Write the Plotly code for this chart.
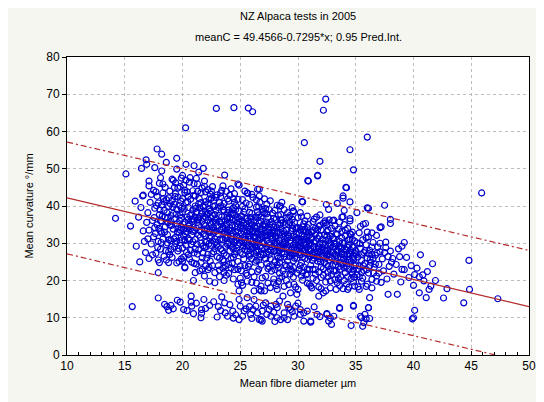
import plotly.graph_objects as go

# ---- regression parameters (from the title) ----
intercept = 49.4566
slope = -0.7295
fit_x = [10, 50]
pi_x = [10, 20, 30, 40, 50]
pi_half = [15.0, 15.1, 15.2, 15.1, 15.1]

# ---- data points (fibre diameter µm, curvature °/mm) ----
band_a = [(17.0,38.2),(17.1,33.5),(17.2,41.0),(17.3,29.8),(17.4,36.1),(17.5,44.2),(17.5,31.7),(17.6,39.4),(17.7,27.3),(17.8,35.0),(17.8,42.6),(17.9,30.5),(18.0,37.7),(18.0,46.1),(18.1,33.2),(18.1,28.4),(18.2,40.3),(18.2,35.9),(18.3,43.5),(18.3,31.1),(18.4,38.8),(18.4,26.5),(18.5,34.4),(18.5,45.0),(18.6,29.6),(18.6,41.7),(18.7,36.8),(18.7,32.3),(18.8,39.9),(18.8,27.8),(18.9,44.0),(18.9,34.9),(19.0,30.7),(19.0,37.4),(16.9,35.6),(17.0,31.2),(17.3,43.1),(17.6,34.2),(17.9,40.8),(18.2,32.7),(18.5,37.0),(18.8,42.2),(17.4,26.9),(18.0,24.8),(18.6,25.5)]
band_b = [(19.1,41.5),(19.1,26.2),(19.2,33.8),(19.2,46.9),(19.3,36.5),(19.3,29.0),(19.4,43.3),(19.4,31.6),(19.5,39.1),(19.5,24.7),(19.5,35.2),(19.6,27.9),(19.6,44.8),(19.7,32.9),(19.7,40.2),(19.8,37.6),(19.8,30.1),(19.9,47.5),(19.9,34.3),(19.9,25.8),(20.0,42.0),(20.0,28.7),(20.0,38.4),(20.1,31.9),(20.1,45.6),(20.2,35.7),(20.2,23.6),(20.3,40.9),(20.3,29.5),(20.3,33.1),(20.4,37.0),(20.4,43.8),(20.5,26.9),(20.5,39.6),(20.5,31.3),(20.6,35.0),(20.6,46.4),(20.7,28.1),(20.7,41.8),(20.7,33.9),(20.8,37.9),(20.8,24.9),(20.9,30.4),(20.9,44.1),(21.0,36.2),(21.0,27.4),(19.2,38.0),(19.6,42.4),(19.9,36.7),(20.2,44.3),(20.4,34.0),(20.6,30.8),(20.9,39.0),(19.4,29.9),(19.8,33.5),(20.1,26.3),(20.5,36.4),(20.8,32.2),(19.3,45.0),(20.0,48.2)]
band_c = [(21.1,42.7),(21.1,31.0),(21.2,38.3),(21.2,24.4),(21.3,35.6),(21.3,45.9),(21.4,28.2),(21.4,40.5),(21.5,33.4),(21.5,22.6),(21.5,37.2),(21.6,30.0),(21.6,43.6),(21.7,26.1),(21.7,35.9),(21.8,39.8),(21.8,32.5),(21.9,46.7),(21.9,28.8),(22.0,41.2),(22.0,34.7),(22.0,23.9),(22.1,37.8),(22.1,30.6),(22.2,44.4),(22.2,27.0),(22.3,33.0),(22.3,39.3),(22.4,35.5),(22.4,25.2),(22.5,42.1),(22.5,29.4),(22.5,31.8),(22.6,37.4),(22.6,45.2),(22.7,27.7),(22.7,34.1),(22.8,40.0),(22.8,22.1),(22.9,36.6),(22.9,30.3),(23.0,43.0),(23.0,26.4),(21.2,34.0),(21.4,36.8),(21.6,40.9),(21.8,29.3),(22.0,32.0),(22.2,36.2),(22.4,38.6),(22.6,33.6),(22.8,31.2),(21.3,27.1),(21.7,44.8),(22.1,26.0),(22.5,35.0),(22.9,38.9),(21.5,39.5),(21.9,33.8),(22.3,29.9),(22.7,41.5),(21.1,37.0),(22.0,36.9),(22.8,28.6),(21.6,24.9),(22.4,43.2),(21.2,47.4),(22.6,24.0)]
band_d = [(23.1,39.6),(23.1,32.4),(23.2,35.8),(23.2,22.8),(23.3,42.5),(23.3,28.5),(23.4,37.1),(23.4,30.9),(23.5,45.4),(23.5,25.6),(23.5,34.3),(23.6,40.7),(23.6,27.3),(23.7,36.0),(23.7,31.5),(23.8,43.9),(23.8,21.4),(23.9,38.2),(23.9,29.7),(24.0,33.6),(24.0,41.3),(24.0,24.3),(24.1,36.7),(24.1,27.9),(24.2,44.6),(24.2,31.9),(24.3,39.0),(24.3,34.8),(24.4,26.2),(24.4,42.0),(24.5,30.2),(24.5,37.5),(24.5,22.9),(24.6,33.1),(24.6,40.1),(24.7,28.7),(24.7,35.3),(24.8,45.9),(24.8,25.1),(24.9,31.4),(24.9,38.6),(25.0,34.0),(25.0,20.6),(23.2,26.0),(23.4,33.9),(23.6,38.8),(23.8,35.0),(24.0,30.0),(24.2,37.9),(24.4,32.6),(24.6,36.3),(24.8,29.6),(23.3,40.0),(23.7,24.0),(24.1,42.9),(24.5,27.0),(24.9,35.7),(23.5,31.0),(23.9,36.4),(24.3,29.0),(24.7,32.0),(23.1,29.2),(23.9,33.0),(24.6,30.8),(23.4,44.2),(24.2,23.4),(24.8,41.8),(23.6,22.2),(24.4,39.5),(25.0,27.5)]
band_e = [(25.1,37.3),(25.1,30.5),(25.2,33.9),(25.2,41.7),(25.3,25.8),(25.3,35.5),(25.4,28.3),(25.4,39.2),(25.5,32.1),(25.5,21.9),(25.6,43.5),(25.6,36.6),(25.7,29.4),(25.7,23.8),(25.8,34.7),(25.8,40.4),(25.9,31.2),(25.9,27.1),(26.0,38.0),(26.0,19.5),(26.1,33.3),(26.1,42.3),(26.2,29.9),(26.2,36.1),(26.3,24.9),(26.3,31.7),(26.4,39.7),(26.4,27.6),(26.5,34.5),(26.5,22.4),(26.6,37.6),(26.6,30.0),(26.7,41.0),(26.7,26.3),(26.8,33.0),(26.8,35.9),(26.9,28.8),(26.9,20.7),(27.0,38.5),(27.0,31.6),(25.2,27.0),(25.4,31.0),(25.6,33.2),(25.8,26.5),(26.0,35.0),(26.2,32.8),(26.4,30.4),(26.6,28.0),(26.8,37.0),(25.3,38.4),(25.7,31.9),(26.1,28.6),(26.5,36.8),(26.9,33.8),(25.5,35.1),(25.9,36.9),(26.3,34.0),(26.7,31.0),(25.1,22.6),(25.6,19.8),(26.2,21.0),(26.8,24.1),(25.4,44.0),(26.0,43.1),(26.6,39.8),(25.8,29.1),(26.4,25.4),(27.0,26.9)]
band_f = [(27.1,35.2),(27.1,28.4),(27.2,32.0),(27.2,39.3),(27.3,24.6),(27.3,30.8),(27.4,36.9),(27.4,19.3),(27.5,33.7),(27.5,26.9),(27.6,41.4),(27.6,29.6),(27.7,35.8),(27.7,22.5),(27.8,31.5),(27.8,38.1),(27.9,27.8),(27.9,34.3),(28.0,25.0),(28.0,30.1),(28.1,36.4),(28.1,18.6),(28.2,32.9),(28.2,40.2),(28.3,28.9),(28.3,23.4),(28.4,34.9),(28.4,30.7),(28.5,37.7),(28.5,26.1),(28.6,32.4),(28.6,21.0),(28.7,29.3),(28.7,35.5),(28.8,39.0),(28.8,27.2),(28.9,31.9),(28.9,24.2),(29.0,33.5),(29.0,36.8),(27.2,34.6),(27.4,27.7),(27.6,32.7),(27.8,35.0),(28.0,33.2),(28.2,26.6),(28.4,28.0),(28.6,36.2),(28.8,30.3),(27.3,37.9),(27.7,29.0),(28.1,31.2),(28.5,33.9),(28.9,28.5),(27.5,23.7),(27.9,20.4),(28.3,19.7),(28.7,22.6),(27.1,41.9),(28.0,38.8),(28.6,41.0),(27.6,25.8),(28.4,24.8)]
band_g = [(29.1,31.4),(29.1,25.3),(29.2,34.9),(29.2,28.2),(29.3,37.4),(29.3,21.7),(29.4,30.0),(29.4,33.3),(29.5,26.7),(29.5,39.6),(29.6,23.5),(29.6,32.0),(29.7,35.6),(29.7,28.9),(29.8,18.2),(29.8,30.9),(29.9,34.0),(29.9,26.0),(30.0,36.9),(30.0,29.4),(30.1,22.9),(30.1,32.6),(30.2,27.5),(30.2,38.2),(30.3,30.3),(30.3,24.7),(30.4,34.4),(30.4,20.1),(30.5,28.0),(30.5,31.8),(30.6,36.0),(30.6,25.9),(30.7,29.8),(30.7,33.0),(30.8,23.0),(30.8,27.1),(30.9,35.1),(30.9,30.6),(31.0,26.5),(31.0,19.0),(29.2,31.8),(29.4,27.3),(29.6,29.6),(29.8,33.9),(30.0,31.3),(30.2,33.7),(30.4,26.3),(30.6,31.0),(30.8,34.2),(29.3,24.0),(29.7,26.0),(30.1,28.6),(30.5,35.2),(30.9,28.3),(29.5,36.4),(29.9,22.0),(30.3,37.1),(30.7,21.5),(31.0,32.2),(29.0,20.0)]
band_h = [(31.1,29.7),(31.1,24.1),(31.2,33.0),(31.2,27.2),(31.3,35.8),(31.3,20.6),(31.4,30.4),(31.4,26.0),(31.5,32.3),(31.5,22.9),(31.6,37.0),(31.6,28.6),(31.7,25.2),(31.7,31.3),(31.8,34.5),(31.8,18.3),(31.9,27.8),(31.9,29.9),(32.0,23.6),(32.0,33.6),(32.1,26.4),(32.1,31.0),(32.2,21.4),(32.2,35.4),(32.3,28.3),(32.3,24.8),(32.4,30.8),(32.4,17.2),(32.5,33.1),(32.5,26.9),(32.6,22.2),(32.6,29.2),(32.7,36.3),(32.7,25.5),(32.8,31.9),(32.8,19.9),(32.9,27.6),(32.9,34.0),(33.0,24.0),(33.0,29.0),(31.2,31.5),(31.5,27.0),(31.8,25.9),(32.1,28.9),(32.4,27.9),(32.7,30.0),(31.3,23.0),(31.7,33.7),(32.0,20.8),(32.3,32.2),(32.6,23.9),(32.9,21.6),(31.4,36.5),(31.9,37.6),(32.5,35.0)]
band_i = [(33.1,31.2),(33.1,22.5),(33.2,27.0),(33.2,34.6),(33.3,25.1),(33.3,29.8),(33.4,19.4),(33.4,32.4),(33.5,27.9),(33.5,23.7),(33.6,30.5),(33.6,35.7),(33.7,21.0),(33.7,26.2),(33.8,28.8),(33.8,33.2),(33.9,24.4),(33.9,17.8),(34.0,30.0),(34.0,26.8),(34.1,22.1),(34.1,32.0),(34.2,28.2),(34.2,19.0),(34.3,25.6),(34.3,34.0),(34.4,29.4),(34.4,23.0),(34.5,27.1),(34.5,31.1),(34.6,20.5),(34.6,25.0),(34.7,29.0),(34.7,33.0),(34.8,22.8),(34.8,26.5),(34.9,30.6),(34.9,18.5),(35.0,24.2),(35.0,28.0),(33.2,29.1),(33.6,24.9),(34.0,35.0),(34.4,27.3),(34.8,28.9),(33.4,21.5),(33.8,31.4),(34.2,23.8),(34.6,32.3),(33.0,36.1)]
band_j = [(35.1,30.1),(35.1,21.5),(35.2,26.3),(35.3,32.8),(35.3,23.9),(35.4,28.6),(35.5,19.8),(35.5,25.4),(35.6,30.9),(35.7,22.7),(35.7,27.5),(35.8,24.6),(35.9,29.6),(35.9,18.4),(36.0,26.0),(36.1,31.7),(36.1,22.0),(36.2,28.1),(36.3,24.9),(36.4,20.3),(36.4,27.0),(36.5,30.2),(36.6,23.5),(36.7,26.8),(36.8,21.2),(36.9,29.0),(37.0,24.3),(37.1,27.7),(37.2,19.5),(36.0,33.0),(35.4,34.5),(36.8,32.1)]
band_k = [(37.3,25.8),(37.4,22.6),(37.6,30.3),(37.7,20.4),(37.9,23.8),(38.0,27.9),(38.3,21.7),(38.5,24.3),(38.7,28.5),(38.9,19.6),(39.2,22.9),(39.4,26.2),(39.6,20.8),(39.8,24.0),(40.0,18.7),(40.3,23.3),(40.6,26.9),(40.9,19.9),(41.2,22.4),(41.5,18.5),(39.0,29.2),(40.5,21.0),
          (37.6,28.8),(37.5,27.5),(37.8,26.4),(38.2,25.9),(38.8,26.4),(38.1,24.9),(41.65,24.5),(44.8,25.4),(39.0,23.0),(40.1,21.6),(40.8,21.5),(41.9,20.0),(42.9,17.8),(44.85,17.6),(42.6,15.3),(44.35,14.0),(47.3,15.1),(41.1,15.4),(41.35,17.6),(40.5,16.7),(38.6,16.3),(37.8,16.3),(40.1,12.0),(40.0,10.0),(39.2,30.2)]
core_extra_left = [(17.55,36.9),(17.65,32.6),(17.75,40.1),(17.85,28.9),(17.95,34.0),(18.05,39.0),(18.15,30.2),(18.25,37.3),(18.35,42.0),(18.45,33.0),(18.55,28.0),(18.65,38.2),(18.75,35.5),(18.85,31.0),(18.95,40.6),(17.7,43.8),(18.3,45.9),(18.9,27.0),
                   (19.05,34.8),(19.15,39.7),(19.25,31.2),(19.35,42.5),(19.45,37.8),(19.55,33.0),(19.65,28.6),(19.75,36.0),(19.85,41.3),(19.95,30.9),(20.05,35.1),(20.15,39.2),(20.25,32.5),(20.35,27.6),(20.45,41.1),(20.55,34.6),(20.65,37.4),(20.75,29.7),(20.85,35.8),(20.95,42.8),(19.4,46.2),(20.3,46.9),(19.7,25.1),(20.6,25.8),(20.1,33.7),(19.5,30.5),(20.9,33.2),
                   (21.05,33.5),(21.15,39.4),(21.25,29.8),(21.35,36.3),(21.45,42.0),(21.55,31.6),(21.65,37.9),(21.75,27.4),(21.85,34.9),(21.95,40.2),(22.05,29.0),(22.15,33.9),(22.25,38.0),(22.35,31.4),(22.45,36.9),(22.55,27.2),(22.65,39.8),(22.75,32.9),(22.85,35.6),(22.95,29.5),(21.3,43.9),(21.9,45.3),(22.5,44.0),(22.9,42.3),(21.7,23.0),(22.3,23.5),(22.0,38.5),(21.4,32.2),(22.6,30.6),(21.8,36.7),(22.2,40.6),(22.8,37.7),(21.1,28.5),(22.4,33.4)]
core_extra_mid = [(23.05,34.7),(23.15,37.4),(23.25,31.1),(23.35,35.2),(23.45,28.0),(23.55,38.9),(23.65,33.0),(23.75,29.2),(23.85,37.0),(23.95,31.8),(24.05,35.7),(24.15,29.4),(24.25,33.4),(24.35,38.1),(24.45,30.6),(24.55,34.5),(24.65,27.8),(24.75,36.9),(24.85,33.3),(24.95,30.0),(23.3,43.5),(23.9,41.9),(24.5,43.3),(23.6,25.1),(24.2,26.0),(24.8,23.0),(23.2,40.9),(24.0,38.9),(24.6,39.0),(23.7,33.9),(24.3,31.1),(24.9,36.6),(23.4,36.0),(24.1,34.1),(24.7,30.9),(23.1,24.0),(23.8,26.7),(24.4,28.5),
                  (25.05,32.7),(25.15,35.9),(25.25,29.3),(25.35,33.1),(25.45,36.7),(25.55,30.0),(25.65,34.2),(25.75,27.0),(25.85,32.0),(25.95,35.6),(26.05,29.0),(26.15,31.8),(26.25,34.6),(26.35,28.1),(26.45,32.6),(26.55,30.9),(26.65,35.3),(26.75,29.2),(26.85,31.8),(26.95,34.9),(25.2,39.9),(25.8,38.3),(26.4,41.6),(26.9,39.1),(25.4,24.0),(26.0,25.9),(26.6,23.0),(25.6,27.9),(26.2,27.3),(26.8,27.0),(25.3,31.6),(25.9,33.8),(26.5,32.9),(25.1,34.8),(25.7,36.0),(26.3,37.0),(26.9,30.2),(25.5,29.0),(26.1,30.4),(26.7,33.7),
                  (27.05,30.0),(27.15,33.4),(27.25,27.3),(27.35,32.0),(27.45,29.9),(27.55,35.0),(27.65,28.0),(27.75,31.0),(27.85,33.5),(27.95,29.3),(28.05,31.7),(28.15,34.1),(28.25,27.9),(28.35,30.8),(28.45,32.9),(28.55,28.6),(28.65,30.2),(28.75,33.2),(28.85,26.3),(28.95,30.0),(27.3,35.7),(27.9,36.7),(28.5,35.4),(27.2,25.8),(27.8,24.0),(28.4,22.0),(29.0,23.8),(27.6,31.9),(28.2,30.0),(28.8,32.5),(27.4,33.0),(28.0,27.9),(28.6,27.3),(27.1,38.0),(28.3,37.5),(28.9,35.0)]
core_extra_right = [(29.05,29.0),(29.15,32.3),(29.25,26.4),(29.35,30.6),(29.45,28.5),(29.55,33.9),(29.65,27.2),(29.75,30.0),(29.85,32.4),(29.95,28.2),(30.05,30.7),(30.15,26.9),(30.25,29.3),(30.35,32.0),(30.45,27.9),(30.55,30.1),(30.65,28.0),(30.75,31.7),(30.85,25.7),(30.95,29.5),(29.3,35.6),(30.0,34.2),(30.6,33.7),(29.4,22.9),(30.2,24.0),(30.8,21.8),(29.8,28.0),(30.4,31.0),(31.0,30.0),(29.6,25.3),(30.3,27.0),(29.2,36.9),(30.5,23.6),(30.9,33.0),
                    (31.05,28.0),(31.15,31.2),(31.25,25.4),(31.35,29.1),(31.45,27.5),(31.55,30.6),(31.65,26.4),(31.75,29.0),(31.85,31.9),(31.95,25.0),(32.05,28.1),(32.15,30.0),(32.25,26.7),(32.35,29.6),(32.45,24.3),(32.55,28.0),(32.65,31.1),(32.75,27.0),(32.85,29.4),(32.95,25.9),(31.3,33.4),(31.9,34.8),(32.6,33.6),(31.5,21.7),(32.2,23.2),(32.8,22.9),(31.1,26.6),(31.7,27.9),(32.4,26.0),(33.0,31.5),
                    (33.05,27.5),(33.15,29.9),(33.25,24.2),(33.35,27.9),(33.45,26.1),(33.55,29.2),(33.65,23.0),(33.75,27.6),(33.85,30.1),(33.95,25.7),(34.05,28.5),(34.15,24.8),(34.25,27.0),(34.35,30.9),(34.45,25.4),(34.55,28.1),(34.65,22.3),(34.75,26.0),(34.85,24.0),(34.95,27.2),(33.3,32.5),(34.1,33.5),(34.7,31.0),(33.5,20.5),(34.3,21.0),(34.9,20.9),(33.7,28.5),(34.4,26.4),
                    (35.05,26.9),(35.2,23.0),(35.35,29.9),(35.5,27.0),(35.65,24.0),(35.8,28.0),(35.95,22.9),(36.1,27.2),(36.25,25.6),(36.4,29.0),(36.55,22.0),(36.7,24.4),(36.85,27.4),(37.0,22.0),(35.3,21.0),(35.9,31.5),(36.5,25.9),(37.1,30.0)]
core_fill = [(18.1,36.0),(18.4,41.2),(18.7,30.1),(19.0,35.9),(19.3,40.5),(19.6,34.1),(19.9,39.4),(20.2,30.7),(20.5,42.6),(20.8,36.5),(21.1,40.0),(21.4,34.7),(21.7,38.6),(22.0,30.2),(22.3,41.8),(22.6,35.8),(22.9,33.3),(19.0,28.3),(20.0,25.2),(21.0,24.6),(22.2,22.9),(19.8,45.2),(21.0,46.0),(22.0,43.8),
             (23.2,21.0),(23.6,20.0),(24.0,21.9),(24.4,20.4),(24.8,19.0),(25.2,18.7),(25.6,21.4),(26.0,22.3),(26.4,19.3),(26.8,18.5),(27.2,21.1),(27.6,18.1),(28.0,22.9),(28.4,20.6),(28.8,18.4),(23.5,23.3),(24.3,24.6),(25.0,23.9),(25.8,24.4),(26.6,25.5),(27.4,23.2),(28.2,24.2),(28.9,21.7),
             (29.2,18.9),(29.6,20.9),(30.0,17.6),(30.4,22.2),(30.8,19.3),(31.2,18.0),(31.6,20.0),(32.0,17.8),(32.4,19.6),(32.8,18.0),(33.2,20.2),(33.6,18.6),(34.0,20.0),(34.4,18.2),(34.8,19.6),(35.2,18.3),(35.6,20.6),(36.0,19.0),(36.4,18.0),(36.8,19.8),(29.5,22.4),(30.3,21.2),(31.0,23.0),(31.8,22.3),(32.6,21.0),(33.3,22.6),(34.0,23.4),(34.7,21.7),(35.5,22.2),(36.2,23.9),
             (23.3,33.5),(23.8,32.2),(24.3,36.3),(24.8,34.4),(25.3,30.2),(25.8,33.2),(26.3,29.5),(26.8,32.4),(27.3,29.0),(27.8,32.8),(28.3,26.0),(28.8,29.7),(29.3,27.5),(29.8,31.6),(30.3,28.4),(30.8,29.0),(31.3,26.8),(31.8,28.4),(32.3,27.4),(32.8,26.4),(33.3,26.6),(33.8,27.0),(34.3,28.9),(34.8,25.5),(23.5,39.8),(24.5,41.0),(25.5,40.8),(26.5,38.5),(27.5,39.0),(28.5,36.3),(29.5,34.8),(30.5,33.4),(31.5,34.0),(32.5,31.9),(33.5,33.8),(34.5,32.6)]
low_band = [(15.65,13.0),(17.9,15.3),(18.45,13.6),(18.65,13.0),(18.8,12.0),(19.2,12.4),(19.55,14.7),(19.8,14.2),(20.1,12.2),(20.75,15.8),(20.75,14.2),(20.8,13.1),(20.95,11.1),(21.65,12.2),(21.65,11.2),(21.6,10.0),(21.85,14.9),(22.35,13.3),(23.1,13.0),(23.65,14.0),(23.7,11.3),(23.9,10.4),(24.35,11.8),(24.9,14.9),(25.0,13.1),(24.9,9.5),(25.2,10.4),(25.35,11.8),(25.8,13.0),(26.2,14.9),(26.35,13.1),(26.5,11.3),(26.65,9.5),(26.9,9.1),(27.1,17.2),(27.2,14.0),(27.5,12.2),(27.65,10.4),(28.1,13.6),(28.2,10.0),(28.5,9.5),(28.8,11.3),(29.1,13.6),(29.1,9.5),(29.35,12.2),(29.65,10.4),(29.8,13.1),
            (26.1,12.2),(26.9,11.8),(26.8,9.5),(27.65,13.1),(28.2,12.7),(28.8,10.0),(29.2,12.7),(30.2,12.2),(31.1,9.1),(32.5,10.9),(33.6,12.7),(34.8,13.1),(35.4,10.4),(35.7,8.7),(36.1,12.7),(36.2,15.4),
            (30.5,9.1),(31.1,8.8),(30.2,10.9),(30.5,11.3),(31.65,10.9),(32.5,11.1),(32.8,9.9),(33.1,10.4),(32.65,9.1),(32.9,8.2),(33.6,12.5),(34.8,13.3),(36.1,12.7),(35.8,10.9),(35.5,10.0),(35.9,9.7),(36.2,9.8),(35.6,7.7),(34.6,7.9),(39.9,9.7),
            (22.0,12.5),(22.7,14.3),(23.3,11.9),(24.1,13.5),(24.6,10.8),(25.5,12.4),(25.9,10.9),(26.0,9.8),(27.0,13.4),(27.9,11.5),(28.4,14.5),(29.5,11.6),(30.0,13.9),(30.8,11.8),(31.4,12.9),(31.9,10.3),(23.4,15.6),(25.6,15.4),(28.7,15.8),(19.0,13.3),(20.4,11.9),(21.2,13.9),(23.0,10.2),(24.4,9.9),(27.3,10.9),(28.0,9.0)]
lower_edge = [(18.8,24.8),(20.2,23.4),(21.1,22.1),(20.95,20.0),(21.9,21.2),(22.35,19.8),(22.8,19.4),(24.9,17.2),(25.1,19.4),(26.2,17.2),(26.8,17.2),(27.9,19.4),(28.2,17.6),(29.35,16.7),(29.65,19.0),(26.65,17.6),(29.9,16.3),(31.8,15.8),(33.3,17.6),(34.3,17.6),(35.3,17.6),(31.1,18.5),(32.2,16.7),(17.1,25.9),(17.9,25.5),(17.9,22.1),(16.3,25.0),(16.0,29.2),(16.7,30.5),(16.8,27.5)]
outliers = [(22.93,66.2),(24.45,66.4),(25.7,66.3),(26.07,65.3),(20.27,61.0),(17.8,55.3),(18.2,53.9),(16.85,52.4),(16.9,51.2),(19.5,52.8),(16.45,50.1),(17.6,50.3),(18.6,51.7),(15.1,48.6),(17.1,46.7),(17.1,45.4),(14.2,36.7),(20.3,51.2),(21.0,50.8),(21.8,50.1),(23.65,48.3),(24.9,45.6),(25.65,43.4),(26.65,44.5),(27.3,40.5),(28.4,40.0),(29.1,38.2),(29.6,38.7),(15.9,41.3),(16.4,39.6),(16.6,42.9),(15.5,34.6),(16.6,33.3),(16.2,37.0),
            (32.4,68.7),(32.2,65.7),(30.55,57.0),(36.0,58.5),(34.5,55.1),(31.9,52.0),(34.8,49.7),(31.7,48.2),(30.85,46.8),(34.15,45.0),(33.9,42.7),(33.9,42.1),(34.5,41.1),(33.4,40.7),(30.4,41.1),(32.45,40.4),(32.65,39.1),(37.5,40.2),(36.0,39.5),(35.1,38.2),(45.9,43.5),(38.0,36.4),(38.0,35.3),(37.1,34.2),(30.8,37.3),(29.6,38.5),(34.0,38.8),(33.8,37.0),(34.5,36.6),(33.1,36.2),(32.4,35.5),(35.85,35.3),(37.2,34.4),
            (19.5,49.9),(20.65,47.6),(21.4,49.1),(18.2,49.4),(18.1,47.6),(19.1,47.2),(16.55,42.7),(20.2,43.6),(30.9,46.7),(31.7,48.1),(34.2,44.9),(30.35,41.2),(36.1,39.4),(32.35,36.0),(33.9,37.1),(34.5,36.0),(35.65,35.1),(36.4,32.8),(28.5,40.0),(26.5,44.5),(26.65,42.7)]

groups = [band_a, band_b, band_c, band_d, band_e, band_f, band_g, band_h, band_i, band_j, band_k,
          core_extra_left, core_extra_mid, core_extra_right, core_fill, low_band, lower_edge, outliers]
pts = [p for g in groups for p in g]
fibre = [p[0] for p in pts]
curv = [p[1] for p in pts]

fit_y = [intercept + slope * x for x in fit_x]
pi_fit = [intercept + slope * x for x in pi_x]
pi_upper = [f + h for f, h in zip(pi_fit, pi_half)]
pi_lower = [f - h for f, h in zip(pi_fit, pi_half)]

FONT = "Liberation Sans, Arial, sans-serif"
red = "#b22a2a"

fig = go.Figure()
fig.add_trace(go.Scatter(x=fibre, y=curv, mode="markers",
                         marker=dict(symbol="circle-open", size=6, color="#0000cc",
                                     line=dict(width=1.2, color="#0000cc")),
                         showlegend=False, hoverinfo="skip"))
fig.add_trace(go.Scatter(x=fit_x, y=fit_y, mode="lines",
                         line=dict(color=red, width=1.3), showlegend=False))
fig.add_trace(go.Scatter(x=pi_x, y=pi_upper, mode="lines",
                         line=dict(color=red, width=1.2, dash="6px,3px,2px,3px", shape="spline"),
                         showlegend=False))
fig.add_trace(go.Scatter(x=pi_x, y=pi_lower, mode="lines",
                         line=dict(color=red, width=1.2, dash="6px,3px,2px,3px", shape="spline"),
                         showlegend=False))

# page body has an 8px margin, so the figure is sized to fit inside the window
fig.update_layout(
    width=536, height=394,
    margin=dict(l=59, r=8, t=49, b=47),
    paper_bgcolor="#f6f6f0", plot_bgcolor="white",
    font=dict(family=FONT, size=11, color="black"),
    annotations=[
        dict(text="NZ Alpaca tests in 2005", xref="paper", yref="paper", x=0.5, y=1, yshift=41,
             showarrow=False, xanchor="center", yanchor="middle", font=dict(size=11)),
        dict(text="meanC = 49.4566-0.7295*x; 0.95 Pred.Int.", xref="paper", yref="paper", x=0.5, y=1, yshift=20,
             showarrow=False, xanchor="center", yanchor="middle", font=dict(size=11)),
    ],
)
fig.update_xaxes(range=[10, 50], tickvals=[10, 15, 20, 25, 30, 35, 40, 45, 50],
                 showgrid=True, gridcolor="#bdbdbd", griddash="dot", gridwidth=1,
                 zeroline=False, showline=True, linecolor="black", linewidth=1, mirror=True,
                 ticks="inside", ticklen=4, tickcolor="black", ticklabeloverflow="allow",
                 minor=dict(dtick=1, ticks="inside", ticklen=3, tickcolor="black", showgrid=False),
                 title=dict(text="Mean fibre diameter µm", standoff=6, font=dict(size=11)),
                 tickfont=dict(size=12))
fig.update_yaxes(range=[0, 80], dtick=10,
                 showgrid=True, gridcolor="#bdbdbd", griddash="dot", gridwidth=1,
                 zeroline=False, showline=True, linecolor="black", linewidth=1, mirror=True,
                 ticks="outside", ticklen=4, tickcolor="black",
                 title=dict(text="Mean curvature °/mm", standoff=10, font=dict(size=11)),
                 tickfont=dict(size=12))

fig.write_html("out.html")
